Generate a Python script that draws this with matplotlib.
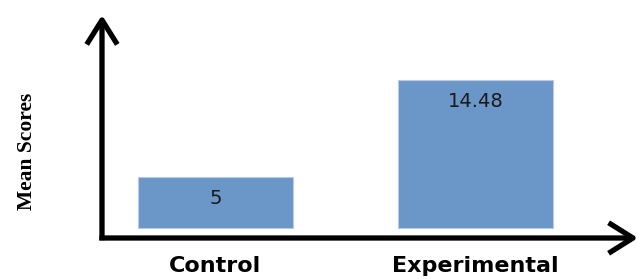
import matplotlib
matplotlib.use('Agg')
import matplotlib.pyplot as plt

# data
groups = ['Control', 'Experimental']
means = [5, 14.48]
value_labels = ['5', '14.48']

barColor = '#6a96c8'

fig = plt.figure(figsize=(6.38, 2.79), dpi=100)
# axes box placed to match the reference axis lines (pixels)
ax = fig.add_axes([102/638, 41/279, 536/638, 223/279])

pos = list(range(len(groups)))
ax.bar(pos, means, width=0.596, color=barColor, edgecolor='#b8cce4', linewidth=0.8, zorder=2)

ax.set_xlim(-0.4365, 1.625)
ax.set_ylim(-0.98, 20.84)

# values inside the bars, a little below the top
for p, m, t in zip(pos, means, value_labels):
	ax.annotate(t, xy=(p, m), xytext=(0, -22), textcoords='offset pixels',
		ha='center', va='center', fontsize=14, color='#1a1a1a', family='DejaVu Sans')

# hand drawn style axes with arrow heads
for spine in ax.spines.values():
	spine.set_visible(False)
arrowStyle = dict(arrowstyle='->,head_length=0.8,head_width=0.5', lw=3.8, color='black',
	shrinkA=0, shrinkB=0, mutation_scale=22, capstyle='butt')
ax.annotate('', xy=(0, 1), xytext=(0, -0.01), xycoords='axes fraction',
	arrowprops=arrowStyle, annotation_clip=False)
ax.annotate('', xy=(1.0, 0), xytext=(-0.005, 0), xycoords='axes fraction',
	arrowprops=arrowStyle, annotation_clip=False)

ax.set_yticks([])
ax.set_xticks(pos)
ax.set_xticklabels(groups, fontsize=16, fontweight='bold', family='DejaVu Sans')
ax.tick_params(axis='x', length=0, pad=13)

fig.text(27/638, 0.457, 'Mean Scores', rotation=90, ha='center', va='center',
	fontsize=15.5, fontweight='bold', family='Liberation Serif')

fig.savefig('out.png', dpi=100)
plt.close()
